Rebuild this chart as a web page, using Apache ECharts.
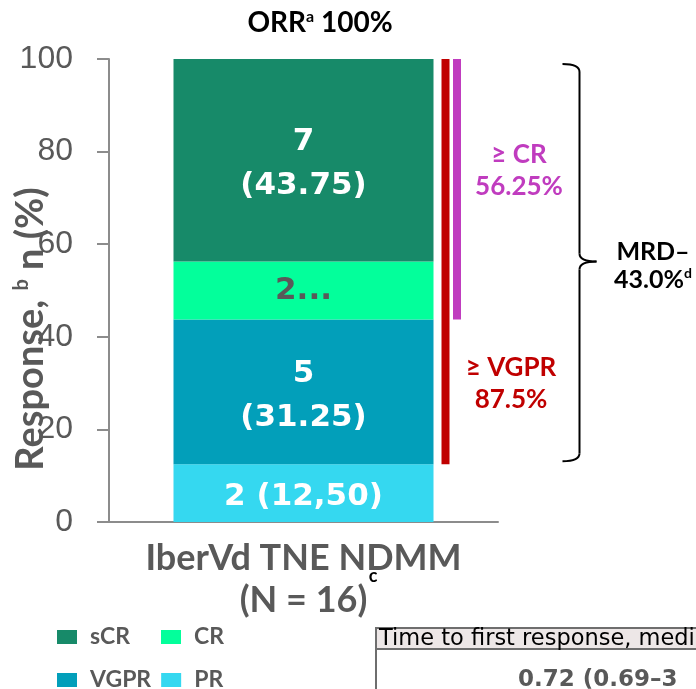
<!DOCTYPE html>
<html><head><meta charset="utf-8">
<script src="https://cdn.jsdelivr.net/npm/echarts@6/dist/echarts.min.js"></script>
<style>html,body{margin:0;padding:0;background:#fff}#c{width:696px;height:689px}</style>
</head><body><div id="c"></div>
<script>
const categories = ['IberVd TNE NDMM\n(N = 16)'];
const seriesNames = ['PR', 'VGPR', 'CR', 'sCR'];
const percents = [12.5, 31.25, 12.5, 43.75];
const segmentLabels = ['2 (12,50)', '5\n(31.25)', '2...', '7\n(43.75)'];
const colors = ['#35d8f0', '#029fba', '#03ff9b', '#178a69'];
const labelColors = ['#ffffff', '#ffffff', '#595959', '#ffffff'];
const rangeVGPR = [12.5, 100];
const rangeCR = [43.75, 100];
const braceRange = [12.5, 100];
const yMin = 0, yMax = 100, yStep = 20;

const GRAY = '#595959';
const AX = '#8c8c8c';

const chart = echarts.init(document.getElementById('c'), null, {renderer: 'canvas'});

const barSeries = seriesNames.map((n, i) => ({
  name: n,
  type: 'bar',
  stack: 'resp',
  barWidth: 260,
  data: [percents[i]],
  itemStyle: {color: colors[i]},
  label: {
    show: true, position: 'inside',
    formatter: segmentLabels[i],
    offset: [0, i === 2 ? 0 : 4],
    color: labelColors[i],
    fontFamily: 'DejaVu Sans', fontWeight: 'bold', fontSize: 31, lineHeight: 44
  },
  emphasis: {disabled: true}
}));

function rangeBar(data, offset, color, name) {
  return {
    name: name, type: 'custom', coordinateSystem: 'cartesian2d',
    data: [[0, data[0], data[1]]],
    renderItem(params, api) {
      const p0 = api.coord([api.value(0), api.value(1)]);
      const p1 = api.coord([api.value(0), api.value(2)]);
      return {type: 'rect', shape: {x: p0[0] + offset, y: p1[1], width: 8, height: p0[1] - p1[1]}, style: {fill: color}};
    },
    silent: true
  };
}

const braceSeries = {
  name: 'brace', type: 'custom', coordinateSystem: 'cartesian2d',
  data: [[0, braceRange[0], braceRange[1]]],
  renderItem(params, api) {
    const top = api.coord([api.value(0), api.value(2)]);
    const bot = api.coord([api.value(0), api.value(1)]);
    const mid = api.coord([api.value(0), (api.value(1) + api.value(2)) / 2]);
    const xs = top[0] + 276, x0 = xs - 17, xm = xs + 17;
    const t = top[1] + 5, b = bot[1] - 3, m = mid[1], r = 8;
    const st = {stroke: '#000', lineWidth: 2, fill: null};
    return {type: 'group', children: [
      {type: 'bezierCurve', shape: {x1: x0, y1: t, x2: xs, y2: t + r, cpx1: xs, cpy1: t}, style: st},
      {type: 'line', shape: {x1: xs, y1: t + r, x2: xs, y2: m - r}, style: st},
      {type: 'bezierCurve', shape: {x1: xs, y1: m - r, x2: xm, y2: m, cpx1: xs, cpy1: m}, style: st},
      {type: 'bezierCurve', shape: {x1: xm, y1: m, x2: xs, y2: m + r, cpx1: xs, cpy1: m}, style: st},
      {type: 'line', shape: {x1: xs, y1: m + r, x2: xs, y2: b - r}, style: st},
      {type: 'bezierCurve', shape: {x1: xs, y1: b - r, x2: x0, y2: b, cpx1: xs, cpy1: b}, style: st}
    ]};
  },
  silent: true
};

const legendCommon = {
  icon: 'rect', itemWidth: 20, itemHeight: 14, itemGap: 10, left: 52,
  selectedMode: false,
  textStyle: {color: GRAY, fontFamily: 'Lato', fontWeight: 'bold', fontSize: 23, lineHeight: 24, width: 61, padding: [0, 0, 0, 8]}
};

const option = {
  animation: false,
  grid: {left: 109, right: 198, top: 59, bottom: 167, containLabel: false, outerBoundsMode: 'none'},
  legend: [
    Object.assign({data: ['sCR', 'CR'], top: 620}, legendCommon),
    Object.assign({data: ['VGPR', 'PR'], top: 663}, legendCommon)
  ],
  xAxis: {
    type: 'category', data: categories,
    axisLine: {show: true, lineStyle: {color: AX, width: 2}},
    axisTick: {show: false},
    axisLabel: {color: GRAY, fontFamily: 'Lato', fontWeight: 'bold', fontSize: 36, lineHeight: 42, margin: 15}
  },
  yAxis: {
    type: 'value', min: yMin, max: yMax, interval: yStep,
    axisLine: {show: true, lineStyle: {color: AX, width: 2}},
    axisTick: {show: true, length: 12, lineStyle: {color: AX, width: 2}},
    splitLine: {show: false},
    axisLabel: {color: GRAY, fontFamily: 'Liberation Sans', fontSize: 32, margin: 36},
    name: '{m|Response, }{s|b}{m| n (%)}',
    nameLocation: 'middle', nameRotate: 90, nameGap: 59,
    nameMoveOverlap: false,
    nameTextStyle: {
      padding: [0, 77, 0, 0],
      rich: {
        m: {color: GRAY, fontFamily: 'Lato', fontWeight: 'bold', fontSize: 38},
        s: {color: GRAY, fontFamily: 'Lato', fontWeight: 'bold', fontSize: 20, verticalAlign: 'top'}
      }
    }
  },
  series: barSeries.concat([
    rangeBar(rangeVGPR, 138, '#c00000', '≥ VGPR range'),
    rangeBar(rangeCR, 149.5, '#c03cbf', '≥ CR range'),
    braceSeries
  ]),
  graphic: [
    {type: 'text', x: 320, y: 23, style: {
      text: '{m|ORR}{s|a}{m| 100%}', align: 'center', verticalAlign: 'middle',
      rich: {
        m: {fill: '#000', fontFamily: 'Lato', fontWeight: 'bold', fontSize: 28},
        s: {fill: '#000', fontFamily: 'Lato', fontWeight: 'bold', fontSize: 16, verticalAlign: 'top'}
      }}},
    {type: 'text', x: 519, y: 171, style: {
      text: '≥ CR\n56.25%', align: 'center', verticalAlign: 'middle', lineHeight: 32,
      fill: '#c03cbf', fontFamily: 'Lato', fontWeight: 'bold', fontSize: 26}},
    {type: 'text', x: 511, y: 384, style: {
      text: '≥ VGPR\n87.5%', align: 'center', verticalAlign: 'middle', lineHeight: 32,
      fill: '#c00000', fontFamily: 'Lato', fontWeight: 'bold', fontSize: 26}},
    {type: 'text', x: 653, y: 266, style: {
      text: '{m|MRD–}\n{m|43.0%}{s|d}', align: 'center', verticalAlign: 'middle',
      rich: {
        m: {fill: '#000', fontFamily: 'Lato', fontWeight: 'bold', fontSize: 25, lineHeight: 28},
        s: {fill: '#000', fontFamily: 'Lato', fontWeight: 'bold', fontSize: 14, lineHeight: 28, verticalAlign: 'top'}
      }}},
    {type: 'text', x: 373, y: 576, style: {
      text: 'c', align: 'center', verticalAlign: 'middle',
      fill: '#000', fontFamily: 'Lato', fontWeight: 'bold', fontSize: 18}},
    {type: 'rect', shape: {x: 377, y: 628, width: 330, height: 21}, style: {fill: '#ede7e7'}},
    {type: 'line', shape: {x1: 376, y1: 628, x2: 700, y2: 628}, style: {stroke: '#6e6e6e', lineWidth: 2}},
    {type: 'line', shape: {x1: 376, y1: 649, x2: 700, y2: 649}, style: {stroke: '#6e6e6e', lineWidth: 2}},
    {type: 'line', shape: {x1: 376, y1: 627, x2: 376, y2: 690}, style: {stroke: '#6e6e6e', lineWidth: 2}},
    {type: 'text', x: 379, y: 639, style: {
      text: 'Time to first response, medi', align: 'left', verticalAlign: 'middle',
      fill: '#000', fontFamily: 'DejaVu Sans', fontSize: 22.5}},
    {type: 'text', x: 518, y: 680, style: {
      text: '0.72 (0.69–3', align: 'left', verticalAlign: 'middle',
      fill: GRAY, fontFamily: 'DejaVu Sans', fontWeight: 'bold', fontSize: 23}}
  ]
};
chart.setOption(option);
</script>
</body></html>
